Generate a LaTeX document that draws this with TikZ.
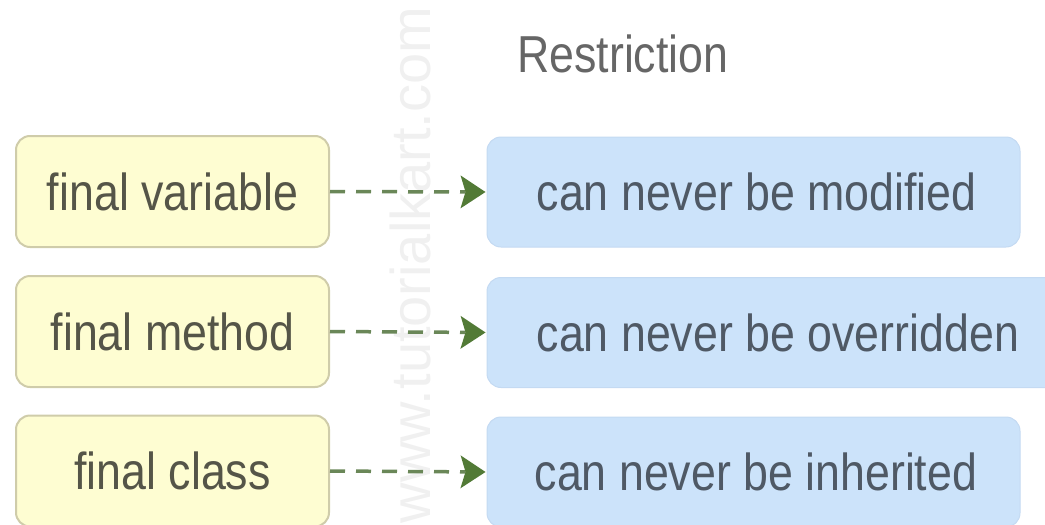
\documentclass[tikz,border=0pt]{standalone}
\usepackage{fontspec}
\setmainfont{Liberation Sans}[FakeStretch=0.86]
\newfontfamily\wmfont{Liberation Sans}
\usetikzlibrary{arrows.meta}
\definecolor{lfill}{HTML}{FEFDD2}
\definecolor{lborder}{HTML}{CFCCAA}
\definecolor{ltext}{HTML}{555548}
\definecolor{rfill}{HTML}{CCE3FA}
\definecolor{rborder}{HTML}{C4DAF2}
\definecolor{rtext}{HTML}{4F5965}
\definecolor{arrowc}{HTML}{527A36}
\definecolor{dashc}{HTML}{6A8758}
\definecolor{titlec}{HTML}{666666}
\definecolor{wmark}{HTML}{F0F0F0}
\begin{document}
\begin{tikzpicture}[x=1pt,y=-1pt,
  bigfont/.style={font=\fontsize{52}{60}\selectfont},
  lbox/.style={draw=lborder, line width=2pt, fill=lfill, rounded corners=14pt,
    minimum width=313pt, minimum height=111pt, inner sep=0pt, text=ltext, bigfont},
  rbox/.style={draw=rborder, line width=1pt, fill=rfill, rounded corners=14pt,
    minimum height=110pt, inner sep=0pt},
  rtxt/.style={anchor=west, inner sep=0pt, text=rtext, bigfont},
  arr/.style={draw=dashc, line width=3.5pt, dash pattern=on 15pt off 11pt,
    -{Stealth[length=25pt, width=33pt, inset=5pt, color=arrowc, fill=arrowc, line width=0pt]}, shorten >=1pt}
]
\useasboundingbox (0,0) rectangle (1045,525);
\clip (0,0) rectangle (1045,525);

\node[rotate=90, text=wmark, inner sep=0pt, font=\wmfont\fontsize{56}{60}\selectfont] (wm) at (410,265) {www.tutorialkart.com};

\node[anchor=base west, inner sep=0pt, text=titlec, bigfont] (title) at (517,72) {Restriction};

\node[lbox] (l1) at (172.5,191.5) {final variable};
\node[lbox] (l2) at (172.5,331.5) {final method};
\node[lbox] (l3) at (172.5,471) {final class};

\node[rbox, minimum width=533pt] (r1) at (753.5,192) {};
\node[rbox, minimum width=575pt] (r2) at (774.5,332.5) {};
\node[rbox, minimum width=533pt] (r3) at (753.5,472) {};

\node[rtxt] (t1) at ([xshift=50pt]r1.west) {can never be modified};
\node[rtxt] (t2) at ([xshift=50pt]r2.west) {can never be overridden};
\node[rtxt] (t3) at ([xshift=48pt]r3.west) {can never be inherited};

\draw[arr] (l1.east) -- (r1.west);
\draw[arr] (l2.east) -- (r2.west);
\draw[arr] (l3.east) -- (r3.west);
\end{tikzpicture}
\end{document}
